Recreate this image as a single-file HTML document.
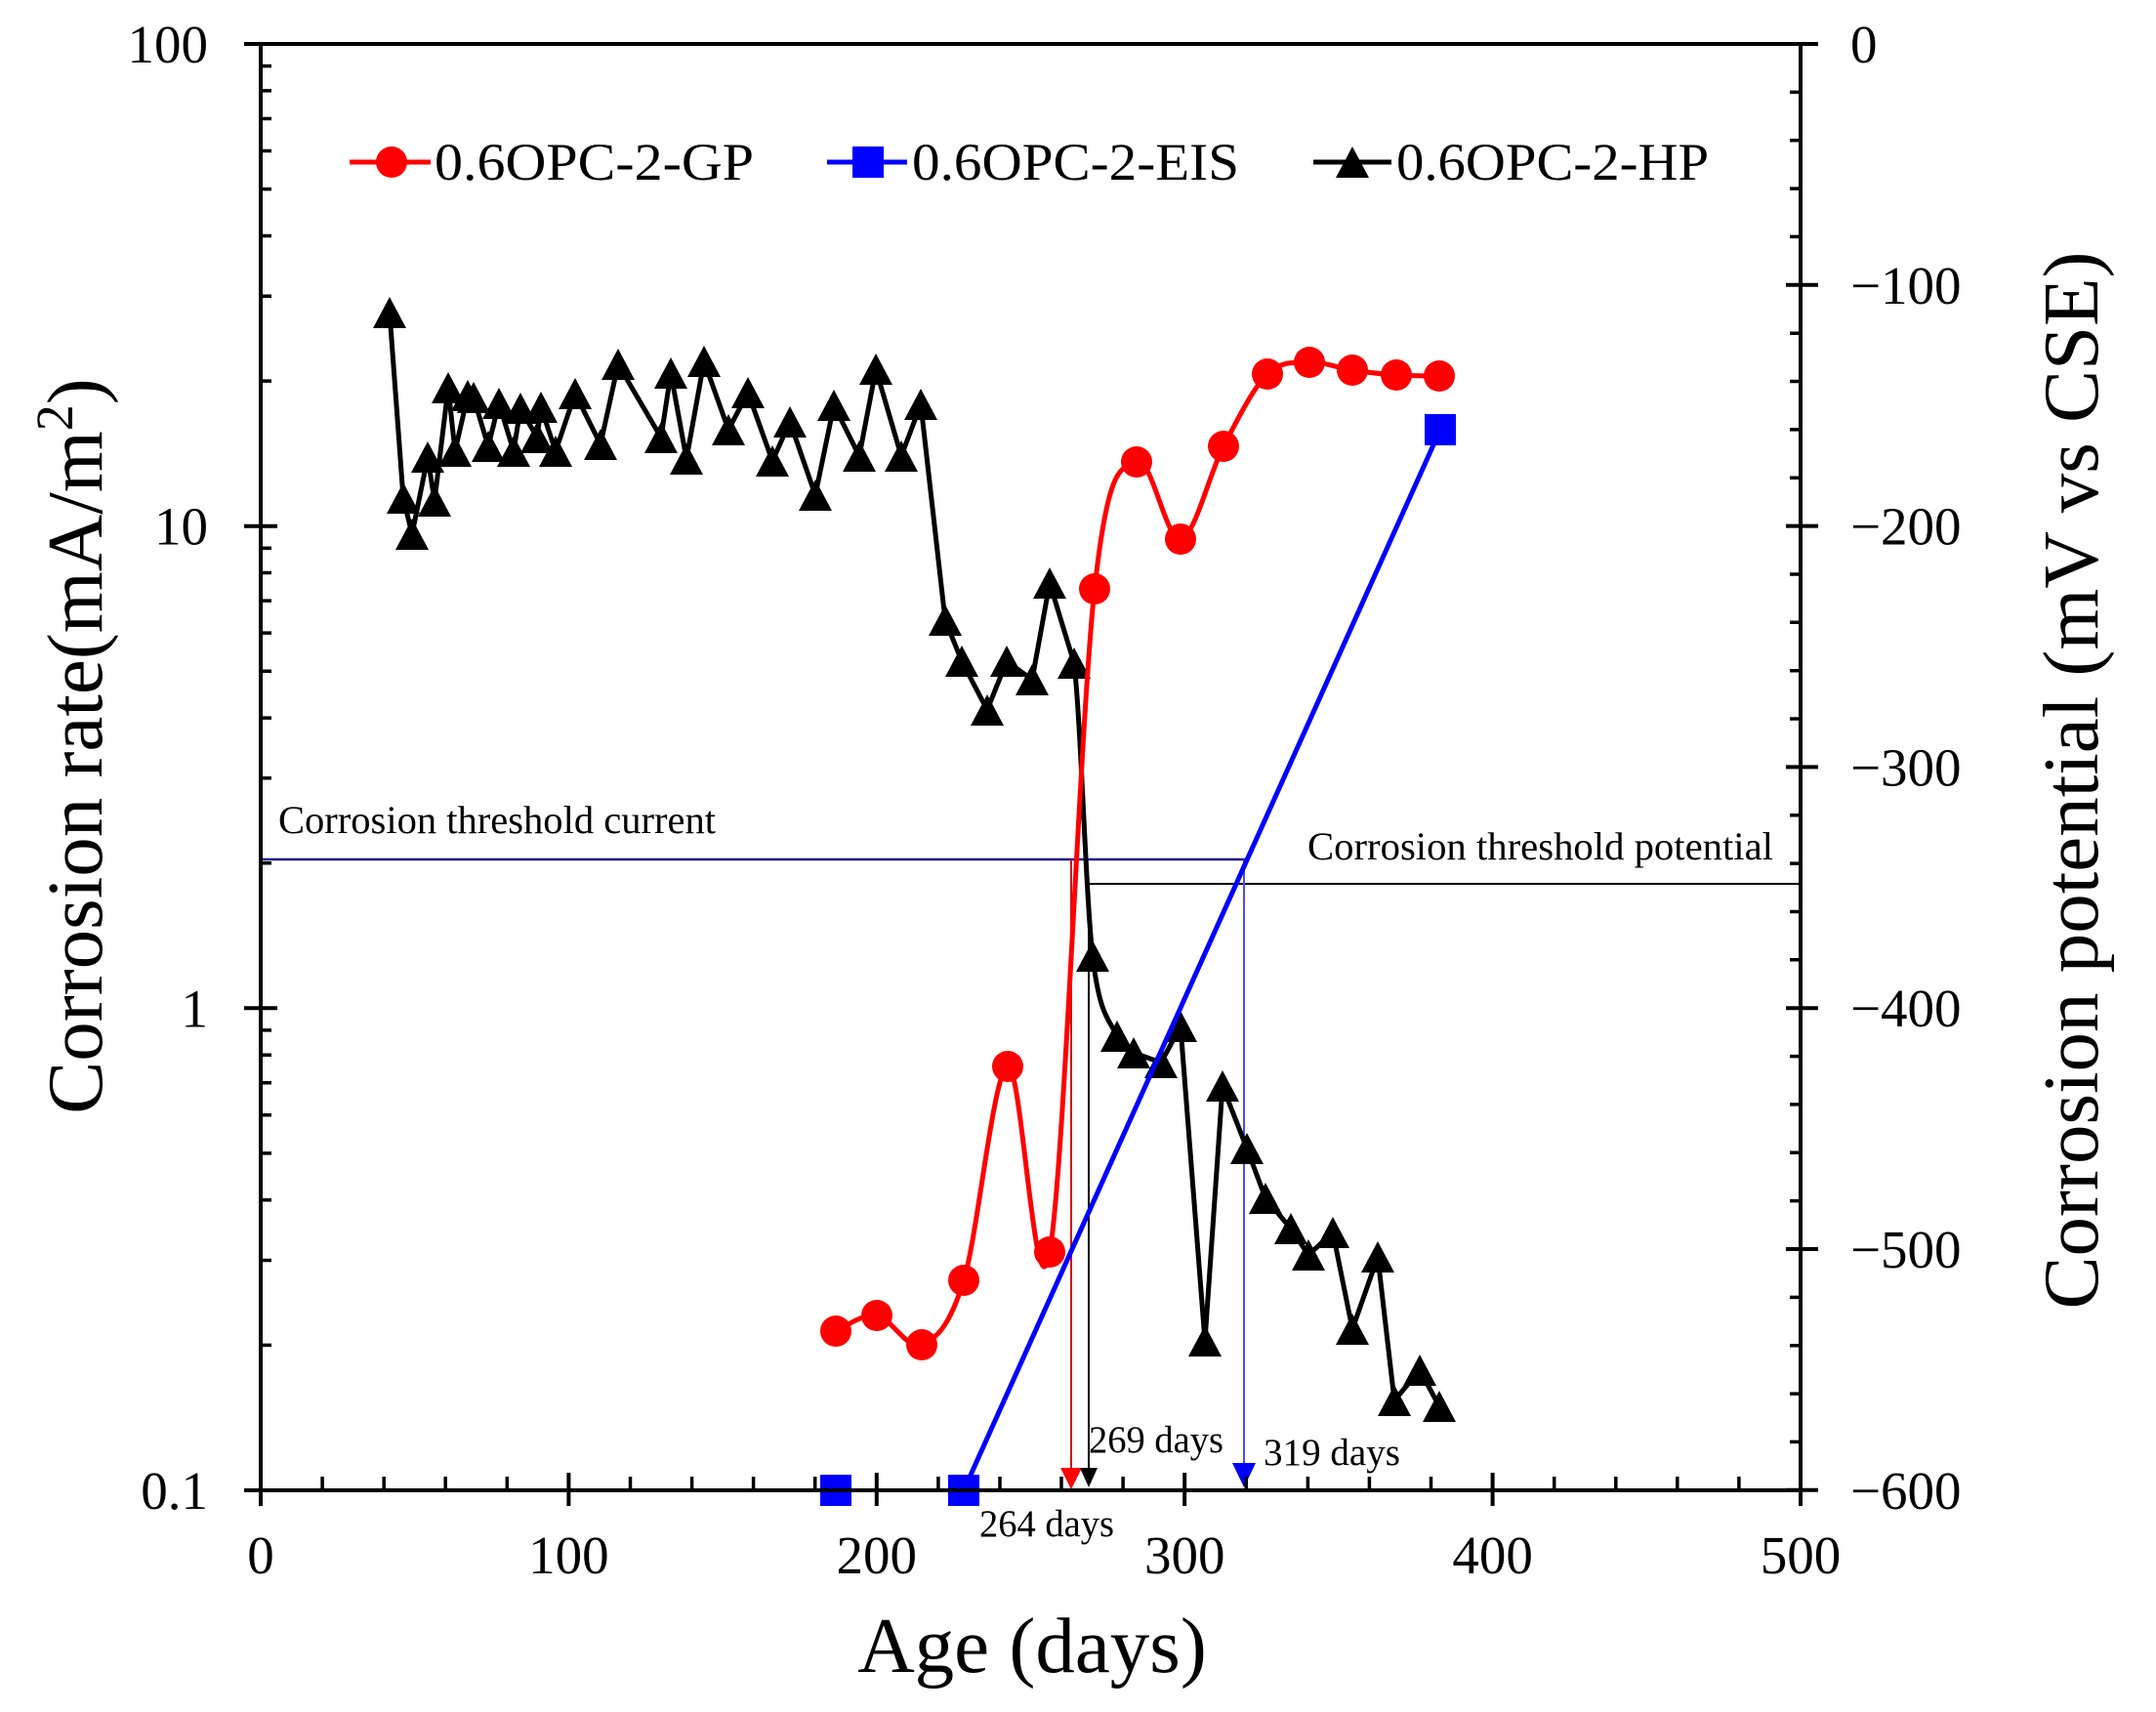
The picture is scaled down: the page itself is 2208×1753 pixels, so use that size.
<!DOCTYPE html>
<html>
<head>
<meta charset="utf-8">
<style>
html,body{margin:0;padding:0;background:#fff;}
svg{display:block;}
text{font-family:"Liberation Serif","Times New Roman",serif;fill:#000;}
</style>
</head>
<body>
<svg width="2208" height="1753" viewBox="0 0 2208 1753" xmlns="http://www.w3.org/2000/svg">
<rect x="0" y="0" width="2208" height="1753" fill="#fff"/>

<!-- threshold lines -->
<line x1="267" y1="880" x2="1277" y2="880" stroke="#1c1c96" stroke-width="2.5"/>
<line x1="1115" y1="905" x2="1844" y2="905" stroke="#000" stroke-width="2"/>

<!-- arrows -->
<line x1="1097" y1="880" x2="1097" y2="1506" stroke="#d01010" stroke-width="2"/>
<polygon points="1086,1503 1108,1503 1097,1525" fill="#ff0000"/>
<line x1="1115" y1="905" x2="1115" y2="1506" stroke="#000" stroke-width="2"/>
<polygon points="1106,1503 1124,1503 1115,1523" fill="#000"/>
<line x1="1274" y1="880" x2="1274" y2="1500" stroke="#4a4aff" stroke-width="2"/>
<polygon points="1262,1498 1286,1498 1274,1523" fill="#0000ff"/>

<!-- black series HP -->
<path fill="none" stroke="#000" stroke-width="5" stroke-linejoin="round" d="M399 320 L413 510 L422 547 L438 468 L445 513 L459 397 L466 462 L479 405 L485 407 L500 457 L511 413 L526 462 L533 418 L550 448 L554 417 L569 462 L589 403 L615 455 L633 373 L677 448 L687 382 L703 470 L721 370 L746 440 L766 402 L791 472 L809 432 L835 507 L854 415 L880 467 L897 378 L923 467 L943 414 L968 635 L985 677 L1011 727 L1031 677 L1057 696 L1075 597 L1100 679 C1107.3 742.7 1111.7 915.3 1119 979 C1126.3 1042.7 1137 1044.5 1144 1061 L1161 1078 L1189 1088 L1209 1051 L1234 1373 L1252 1112 L1277 1176 L1296 1227 L1322 1258 L1340 1285 L1365 1262 L1385 1361 L1411 1287 L1428 1434 L1454 1403 L1474 1440"/>
<path fill="#000" d="M399 304l17 32h-34z M413 494l17 32h-34z M422 531l17 32h-34z M438 452l17 32h-34z M445 497l17 32h-34z M459 381l17 32h-34z M466 446l17 32h-34z M479 389l17 32h-34z M485 391l17 32h-34z M500 441l17 32h-34z M511 397l17 32h-34z M526 446l17 32h-34z M533 402l17 32h-34z M550 432l17 32h-34z M554 401l17 32h-34z M569 446l17 32h-34z M589 387l17 32h-34z M615 439l17 32h-34z M633 357l17 32h-34z M677 432l17 32h-34z M687 366l17 32h-34z M703 454l17 32h-34z M721 354l17 32h-34z M746 424l17 32h-34z M766 386l17 32h-34z M791 456l17 32h-34z M809 416l17 32h-34z M835 491l17 32h-34z M854 399l17 32h-34z M880 451l17 32h-34z M897 362l17 32h-34z M923 451l17 32h-34z M943 398l17 32h-34z M968 619l17 32h-34z M985 661l17 32h-34z M1011 711l17 32h-34z M1031 661l17 32h-34z M1057 680l17 32h-34z M1075 581l17 32h-34z M1100 663l17 32h-34z M1119 963l17 32h-34z M1144 1045l17 32h-34z M1161 1062l17 32h-34z M1189 1072l17 32h-34z M1209 1035l17 32h-34z M1234 1357l17 32h-34z M1252 1096l17 32h-34z M1277 1160l17 32h-34z M1296 1211l17 32h-34z M1322 1242l17 32h-34z M1340 1269l17 32h-34z M1365 1246l17 32h-34z M1385 1345l17 32h-34z M1411 1271l17 32h-34z M1428 1418l17 32h-34z M1454 1387l17 32h-34z M1474 1424l17 32h-34z"/>

<!-- red series GP -->
<path fill="none" stroke="#ff0000" stroke-width="5" stroke-linejoin="round" d="M856 1363 C863 1360.3 883.3 1344.7 898 1347 C912.7 1349.3 929.2 1383 944 1377 C958.8 1371 972.3 1358.5 987 1311 C1001.7 1263.5 1017.3 1096.8 1032 1092 C1046.7 1087.2 1060.2 1363.5 1075 1282 C1089.8 1200.5 1106.2 737.8 1121 603 C1135.8 468.2 1149.3 481.5 1164 473 C1178.7 464.5 1194.2 554.7 1209 552 C1223.8 549.3 1238.2 485.2 1253 457 C1267.8 428.8 1283.3 397.3 1298 383 C1312.7 368.7 1326.5 371.7 1341 371 C1355.5 370.3 1370.2 376.8 1385 379 C1399.8 381.2 1415.2 383 1430 384 C1444.8 385 1466.7 384.8 1474 385"/>
<g fill="#ff0000">
<circle cx="856" cy="1363" r="16"/>
<circle cx="898" cy="1347" r="16"/>
<circle cx="944" cy="1377" r="16"/>
<circle cx="987" cy="1311" r="16"/>
<circle cx="1032" cy="1092" r="16"/>
<circle cx="1075" cy="1282" r="16"/>
<circle cx="1121" cy="603" r="16"/>
<circle cx="1164" cy="473" r="16"/>
<circle cx="1209" cy="552" r="16"/>
<circle cx="1253" cy="457" r="16"/>
<circle cx="1298" cy="383" r="16"/>
<circle cx="1341" cy="371" r="16"/>
<circle cx="1385" cy="379" r="16"/>
<circle cx="1430" cy="384" r="16"/>
<circle cx="1474" cy="385" r="16"/>
</g>

<!-- blue series EIS -->
<path fill="none" stroke="#0000ff" stroke-width="5" d="M987 1526 L1475 440"/>
<g fill="#0000ff">
<rect x="840" y="1510" width="32" height="32"/>
<rect x="971" y="1510" width="32" height="32"/>
<rect x="1459" y="424" width="32" height="32"/>
</g>

<!-- axes frame -->
<rect x="267" y="45" width="1577" height="1481" fill="none" stroke="#000" stroke-width="4"/>

<!-- major ticks -->
<path stroke="#000" stroke-width="4" fill="none" d="M250 45H284 M250 538.7H284 M250 1032.3H284 M250 1526H284
M267 1508V1542 M582.4 1508V1542 M897.8 1508V1542 M1213.2 1508V1542 M1528.6 1508V1542 M1844 1508V1542
M1829 45H1862 M1829 291.8H1862 M1829 538.6H1862 M1829 785.4H1862 M1829 1032.2H1862 M1829 1279H1862 M1829 1525.8H1862"/>

<!-- minor ticks -->
<path stroke="#000" stroke-width="3.5" fill="none" d="
M267 1377.4h11 M267 1290.5h11 M267 1228.8h11 M267 1180.9h11 M267 1141.8h11 M267 1108.8h11 M267 1080.2h11 M267 1054.9h11
M267 883.7h11 M267 796.8h11 M267 735.1h11 M267 687.2h11 M267 648.1h11 M267 615.1h11 M267 586.5h11 M267 561.2h11
M267 390.1h11 M267 303.2h11 M267 241.5h11 M267 193.6h11 M267 154.5h11 M267 121.5h11 M267 92.9h11 M267 67.6h11
M330.1 1526v-14 M393.2 1526v-14 M456.2 1526v-14 M519.3 1526v-14 M645.5 1526v-14 M708.6 1526v-14 M771.6 1526v-14 M834.7 1526v-14 M960.9 1526v-14 M1024 1526v-14 M1087 1526v-14 M1150.1 1526v-14 M1276.3 1526v-14 M1339.4 1526v-14 M1402.4 1526v-14 M1465.5 1526v-14 M1591.7 1526v-14 M1654.8 1526v-14 M1717.8 1526v-14 M1780.9 1526v-14
M1844 94.4h-11 M1844 143.7h-11 M1844 193.1h-11 M1844 242.4h-11 M1844 341.2h-11 M1844 390.5h-11 M1844 439.9h-11 M1844 489.2h-11 M1844 588h-11 M1844 637.3h-11 M1844 686.7h-11 M1844 736h-11 M1844 834.8h-11 M1844 884.1h-11 M1844 933.5h-11 M1844 982.8h-11 M1844 1081.6h-11 M1844 1130.9h-11 M1844 1180.3h-11 M1844 1229.6h-11 M1844 1328.4h-11 M1844 1377.7h-11 M1844 1427.1h-11 M1844 1476.4h-11"/>

<!-- left tick labels -->
<g font-size="55" text-anchor="end">
<text x="213" y="64">100</text>
<text x="213" y="557.7">10</text>
<text x="213" y="1051.3">1</text>
<text x="213" y="1545">0.1</text>
</g>
<!-- bottom tick labels -->
<g font-size="55" text-anchor="middle">
<text x="267" y="1611">0</text>
<text x="582.4" y="1611">100</text>
<text x="897.8" y="1611">200</text>
<text x="1213.2" y="1611">300</text>
<text x="1528.6" y="1611">400</text>
<text x="1844" y="1611">500</text>
</g>
<!-- right tick labels -->
<g font-size="55" text-anchor="start">
<text x="1895" y="64">0</text>
<text x="1895" y="310.8">−100</text>
<text x="1895" y="557.6">−200</text>
<text x="1895" y="804.4">−300</text>
<text x="1895" y="1051.2">−400</text>
<text x="1895" y="1298">−500</text>
<text x="1895" y="1544.8">−600</text>
</g>

<!-- axis titles -->
<text transform="translate(104,764) rotate(-90)" text-anchor="middle" font-size="81">Corrosion rate(mA/m<tspan dy="-30" font-size="54">2</tspan><tspan dy="30">)</tspan></text>
<text transform="translate(2148,799) rotate(-90)" text-anchor="middle" font-size="81">Corrosion potential (mV vs CSE)</text>
<text x="1057" y="1712" text-anchor="middle" font-size="81">Age (days)</text>

<!-- legend -->
<line x1="358" y1="166" x2="441" y2="166" stroke="#ff0000" stroke-width="5"/>
<circle cx="401" cy="166" r="16" fill="#ff0000"/>
<text x="445" y="184" font-size="54" textLength="327" lengthAdjust="spacingAndGlyphs">0.6OPC-2-GP</text>
<line x1="847" y1="166" x2="929" y2="166" stroke="#0000ff" stroke-width="5"/>
<rect x="873" y="150" width="32" height="32" fill="#0000ff"/>
<text x="934" y="184" font-size="54" textLength="335" lengthAdjust="spacingAndGlyphs">0.6OPC-2-EIS</text>
<line x1="1345" y1="166" x2="1425" y2="166" stroke="#000" stroke-width="5"/>
<path d="M1385 150l17 32h-34z" fill="#000"/>
<text x="1430" y="184" font-size="54" textLength="320" lengthAdjust="spacingAndGlyphs">0.6OPC-2-HP</text>

<!-- annotations -->
<text x="285" y="853" font-size="40.5" textLength="448" lengthAdjust="spacingAndGlyphs">Corrosion threshold current</text>
<text x="1339" y="880" font-size="40.5" textLength="477" lengthAdjust="spacingAndGlyphs">Corrosion threshold potential</text>
<text x="1003" y="1573" font-size="39" textLength="138" lengthAdjust="spacingAndGlyphs">264 days</text>
<text x="1115" y="1487" font-size="39" textLength="138" lengthAdjust="spacingAndGlyphs">269 days</text>
<text x="1294" y="1500" font-size="39" textLength="140" lengthAdjust="spacingAndGlyphs">319 days</text>
</svg>
</body>
</html>
